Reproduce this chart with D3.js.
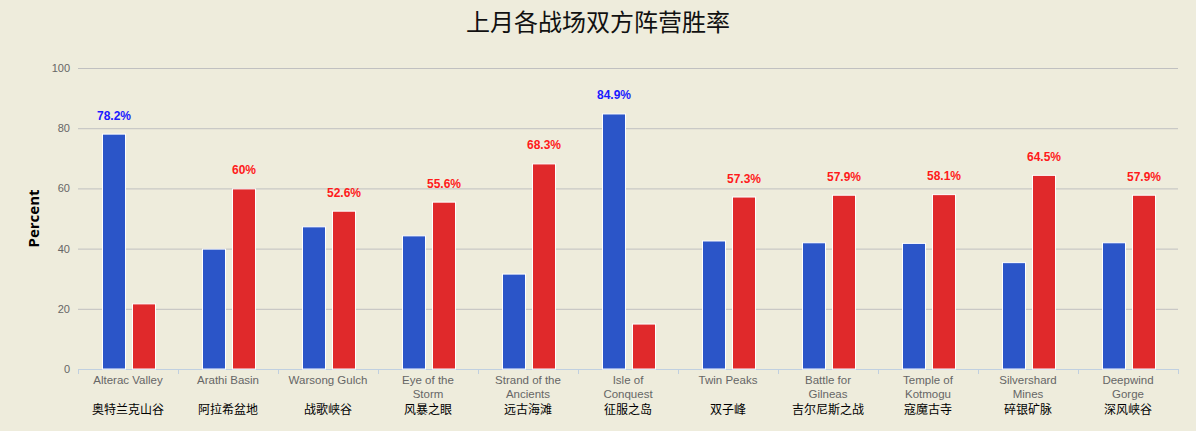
<!DOCTYPE html>
<html><head><meta charset="utf-8">
<script src="https://cdn.jsdelivr.net/npm/d3@7"></script>
<style>
html,body{margin:0;padding:0;background:#eeecdc;}
svg{display:block;}
</style></head>
<body>
<svg id="c" width="1196" height="431"></svg>
<script>
const categoriesEn = [["Alterac Valley"],["Arathi Basin"],["Warsong Gulch"],["Eye of the","Storm"],["Strand of the","Ancients"],["Isle of","Conquest"],["Twin Peaks"],["Battle for","Gilneas"],["Temple of","Kotmogu"],["Silvershard","Mines"],["Deepwind","Gorge"]];
const categoriesCn = ["奥特兰克山谷","阿拉希盆地","战歌峡谷","风暴之眼","远古海滩","征服之岛","双子峰","吉尔尼斯之战","寇魔古寺","碎银矿脉","深风峡谷"];
const allianceValues = [78.2,40,47.4,44.4,31.7,84.9,42.7,42.1,41.9,35.5,42.1];
const hordeValues = [21.8,60,52.6,55.6,68.3,15.1,57.3,57.9,58.1,64.5,57.9];
const yTicks = [0,20,40,60,80,100];
const title = "上月各战场双方阵营胜率";
const yTitle = "Percent";

const svg = d3.select("#c");
const L = 78, R = 1178, T = 68, B = 369;
const x = d3.scaleBand().domain(d3.range(categoriesEn.length)).range([L, R]);
const y = d3.scaleLinear().domain([0,100]).range([B, T]);
const xs = d3.scaleBand().domain([0,1]).range([24, 78]).paddingInner(0.2).paddingOuter(0);

svg.append("text").attr("x", 598).attr("y", 31).attr("text-anchor","middle")
  .attr("font-family","'Noto Sans CJK SC',sans-serif").attr("font-size",24).attr("fill","#111").text(title);

// grid
svg.append("g").selectAll("line").data(yTicks.filter(d=>d>0)).join("line")
  .attr("x1", L).attr("x2", R).attr("y1", d=>y(d)+0.5).attr("y2", d=>y(d)+0.5)
  .attr("stroke","#c0c0c0").attr("stroke-width",1);

// y labels
svg.append("g").selectAll("text").data(yTicks).join("text")
  .attr("x", 70).attr("y", d=>y(d)+4).attr("text-anchor","end")
  .attr("font-family","'Liberation Sans',Arial,sans-serif").attr("font-size",11).attr("fill","#666").text(d=>d);

svg.append("text").attr("transform",`translate(39,${(T+B)/2}) rotate(-90)`).attr("text-anchor","middle")
  .attr("font-family","'Open Sans','DejaVu Sans',sans-serif").attr("font-weight","bold").attr("font-size",15).attr("fill","#000").text(yTitle);

// x axis
svg.append("line").attr("x1",L).attr("x2",R).attr("y1",B+0.5).attr("y2",B+0.5).attr("stroke","#c0d0e0");
svg.append("g").selectAll("line").data(d3.range(categoriesEn.length+1)).join("line")
  .attr("x1", d=>L+d*x.step()+0.5).attr("x2", d=>L+d*x.step()+0.5).attr("y1",B).attr("y2",B+5).attr("stroke","#c0d0e0");

const colors = ["#2b55c8","#e0292b"];
const labelColors = ["#1a1aff","#ff1a1a"];
const series = [allianceValues, hordeValues];
series.forEach((vals, si) => {
  svg.append("g").selectAll("rect").data(vals).join("rect")
    .attr("x", (d,i)=>x(i)+xs(si)+0.5)
    .attr("y", d=>y(d)+0.5)
    .attr("width", xs.bandwidth()-1)
    .attr("height", d=>B-y(d)-0.5)
    .attr("fill", colors[si]).attr("stroke","#fff").attr("stroke-width",1);
});
// labels on larger value
allianceValues.forEach((a,i)=>{
  const h = hordeValues[i];
  const si = a > h ? 0 : 1;
  const v = series[si][i];
  svg.append("text").attr("x", x(i)+xs(si)+xs.bandwidth()/2).attr("y", y(v)-14)
    .attr("text-anchor","middle").attr("font-family","'Liberation Sans',Arial,sans-serif")
    .attr("font-weight","bold").attr("font-size",12).attr("fill",labelColors[si]).text(v+"%");
});

// category labels
categoriesEn.forEach((lines,i)=>{
  const t = svg.append("text").attr("x", x(i)+x.bandwidth()/2).attr("y", 384).attr("text-anchor","middle")
    .attr("font-family","'Liberation Sans',Arial,sans-serif").attr("font-size",11.5).attr("fill","#666");
  lines.forEach((ln,j)=>t.append("tspan").attr("x", x(i)+x.bandwidth()/2).attr("dy", j?14:0).text(ln));
  svg.append("text").attr("x", x(i)+x.bandwidth()/2).attr("y", 414).attr("text-anchor","middle")
    .attr("font-family","'Noto Sans CJK SC',sans-serif").attr("font-size",12).attr("fill","#000").text(categoriesCn[i]);
});
</script>
</body></html>
